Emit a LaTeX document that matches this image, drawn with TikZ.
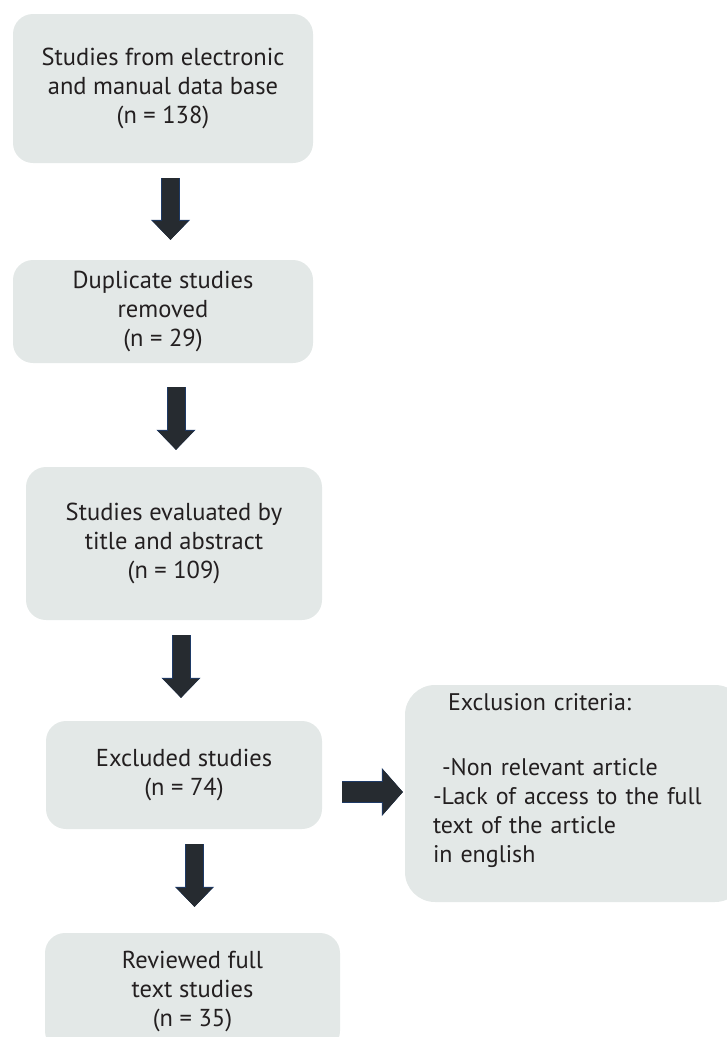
\documentclass[tikz,border=0pt]{standalone}
\usepackage{fontspec}
\setmainfont{PT Sans}
\usetikzlibrary{arrows.meta}

\definecolor{boxfill}{HTML}{E3E8E7}
\definecolor{arrowfill}{HTML}{262B30}
\definecolor{arrowedge}{HTML}{1E3A66}
\definecolor{textcol}{HTML}{231F20}

\tikzset{
  stagebox/.style={fill=boxfill, rounded corners=20pt, align=center, text=textcol,
    font=\fontsize{24.5}{29}\selectfont, inner sep=0pt},
  stagearrow/.style={draw=arrowfill, line width=17pt,
    -{Triangle[length=19pt,width=36pt,line width=0.5pt]},
    preaction={draw=arrowedge, line width=19pt,
      -{Triangle[length=20pt,width=39pt,line width=0.5pt]}}},
  sidearrow/.style={draw=arrowfill, line width=20pt,
    -{Triangle[length=20pt,width=45pt,line width=0.5pt]},
    preaction={draw=arrowedge, line width=22pt,
      -{Triangle[length=21pt,width=48pt,line width=0.5pt]}}}
}

\begin{document}
\begin{tikzpicture}[x=1pt,y=-1pt]
  \useasboundingbox (0,0) rectangle (727,1037);

  % stages of the selection
  \node[stagebox, minimum width=300pt, minimum height=149pt] (studies) at (163,88.5)
    {Studies from electronic\\and manual data base\\(n = 138)};
  \node[stagebox, minimum width=300pt, minimum height=103pt] (dups) at (163,311.5)
    {Duplicate studies\\removed\\(n = 29)};
  \node[stagebox, minimum width=296pt, minimum height=153pt] (evaluated) at (174,543.5)
    {Studies evaluated by\\title and abstract\\(n = 109)};
  \node[stagebox, minimum width=276pt, minimum height=108pt] (excluded) at (184,775)
    {Excluded studies\\(n = 74)};
  \node[stagebox, minimum width=295pt, minimum height=118pt] (reviewed) at (192.5,992)
    {Reviewed full\\text studies\\(n = 35)};

  % exclusion criteria
  \node[stagebox, rounded corners=30pt, minimum width=340pt, minimum height=217pt] (criteria) at (575,793.5) {};
  \node[anchor=north west, text width=290pt, align=left, inner sep=0pt, text=textcol,
    font=\fontsize{24}{29}\selectfont] (critlist) at ([xshift=28pt,yshift=-8pt]criteria.north west)
    {\hspace*{15pt}Exclusion criteria:\\[36pt]
     \hspace*{9pt}-Non relevant article\\
     -Lack of access to the full\\
     text of the article\\
     in english};

  % arrows
  \draw[stagearrow, shorten <=15pt, shorten >=20pt] ([xshift=7.5pt]studies.south) -- ([xshift=7.5pt]dups.north);
  \draw[stagearrow, shorten <=24pt, shorten >=17pt] ([xshift=13pt]dups.south) -- ([xshift=2pt]evaluated.north);
  \draw[stagearrow, shorten <=15pt, shorten >=23pt] ([xshift=7pt]evaluated.south) -- ([xshift=-3pt]excluded.north);
  \draw[stagearrow, shorten <=15pt, shorten >=26pt] ([xshift=10.5pt]excluded.south) -- ([xshift=2pt]reviewed.north);
  \draw[sidearrow, shorten <=20pt, shorten >=2pt] ([yshift=-17pt]excluded.east) -- ([yshift=-17pt]excluded.east -| criteria.west);
\end{tikzpicture}
\end{document}
